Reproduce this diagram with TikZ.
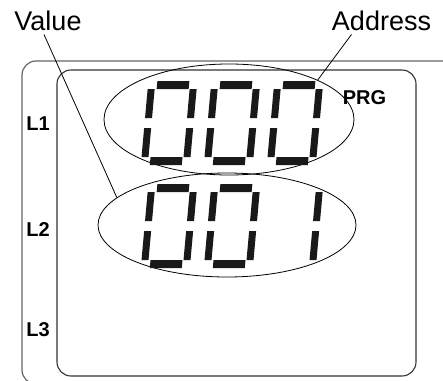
\documentclass[tikz,border=0pt]{standalone}
\usepackage{fontspec}
\setmainfont{Liberation Sans}
\usepackage{tikz}
\usetikzlibrary{shapes.geometric}

\begin{document}
\begin{tikzpicture}[x=1pt, y=-1pt,
  lbl/.style={font=\fontsize{27}{30}\selectfont, anchor=base, inner sep=1pt},
  tag/.style={font=\fontsize{20}{22}\selectfont\bfseries, anchor=base, inner sep=1pt},
  oval/.style={draw, ellipse, line width=0.8pt, inner sep=0pt},
  lead/.style={line width=0.8pt},
  seg/.style={fill=black!90}]
  \useasboundingbox (0,0) rectangle (443,380);
  \clip (0,0) rectangle (443,380);
  % frames of the display
  \draw[black!60, line width=1.2pt, rounded corners=14pt] (22,61) rectangle (470,384);
  \draw[black!80, line width=1.1pt, rounded corners=14pt] (57,70) rectangle (416,376);
  % ovals round the two lines
  \node[oval, minimum width=250pt, minimum height=111pt] (topoval) at (229,119.5) {};
  \node[oval, minimum width=258pt, minimum height=104pt] (lowoval) at (227,225) {};
  % segment digits: 0 0 0 / 0 0 _
  \foreach \dx/\dy in {140.8/165, 203.8/165, 266.8/165, 140.8/268, 203.8/268} {
    \begin{scope}[shift={(\dx,\dy)}, xslant=0.09, yscale=-1]
      \fill[seg] (9,76) rectangle (41,84);
      \fill[seg] (42,47) rectangle (49,76);
      \fill[seg] (42,8) rectangle (49,37);
      \fill[seg] (9,0) rectangle (41,8);
      \fill[seg] (0,8) rectangle (7,37);
      \fill[seg] (0,47) rectangle (7,76);
    \end{scope}
  }
  \begin{scope}[shift={(266.8,268)}, xslant=0.09, yscale=-1]
    \fill[seg] (42,47) rectangle (49,76);
    \fill[seg] (42,8) rectangle (49,37);
  \end{scope}
  % labels
  \node[lbl] (value) at (48,30) {Value};
  \node[lbl] (address) at (381.5,30) {Address};
  \node[tag] (prg) at (364.5,104) {PRG};
  \node[tag] (l1) at (38,130) {L1};
  \node[tag] (l2) at (38,236) {L2};
  \node[tag] (l3) at (38,336) {L3};
  \draw[lead] ([xshift=-4pt,yshift=-3pt]value.south) -- (lowoval.166);
  \draw[lead] ([xshift=-30pt,yshift=-3pt]address.south) -- (topoval.24);
\end{tikzpicture}
\end{document}
